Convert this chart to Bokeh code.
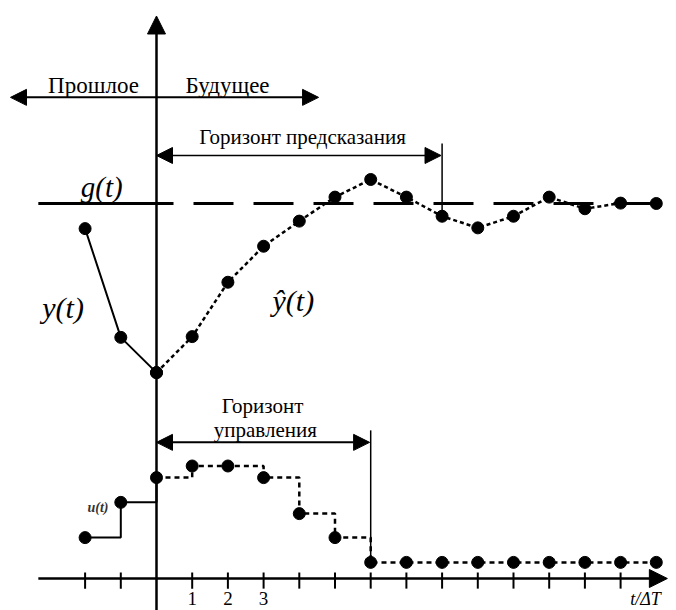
from bokeh.plotting import figure
from bokeh.models import Range1d, Arrow, NormalHead
from bokeh.core.properties import value
from bokeh.embed import file_html
from bokeh.resources import INLINE

# ---- data ----
t_past = [-2, -1, 0]
y_past = [9.33, 6.43, 5.49]

t_pred = [0, 1, 2, 3, 4, 5, 6, 7, 8, 9, 10, 11, 12, 13, 14]
y_pred = [5.49, 6.45, 7.90, 8.86, 9.53, 10.17, 10.64, 10.17, 9.66, 9.35, 9.66, 10.17, 9.86, 10.01, 10.0]

u_past_t = [-2, -1, 0]
u_past = [1.09, 2.03, 2.69]

u_fut_t = [0, 1, 2, 3, 4, 5, 6, 7, 8, 9, 10, 11, 12, 13, 14]
u_fut = [2.69, 3.0, 3.0, 2.69, 1.73, 1.09, 0.43, 0.43, 0.43, 0.43, 0.43, 0.43, 0.43, 0.43, 0.43]

g_value = 10.0
tick_t = [-2, -1, 1, 2, 3, 4, 5, 6, 7, 8, 9, 10, 11, 12, 13]
tick_labels_t = [1, 2, 3]
tick_labels = ["1", "2", "3"]
pred_horizon = 8
ctrl_horizon = 6

FONT = value("Liberation Serif")
BLACK = "black"

p = figure(width=676, height=610, output_backend="svg", toolbar_location=None,
           x_range=Range1d(-4.3697, 14.566), y_range=Range1d(-0.8533, 15.413),
           min_border=0, x_axis_location=None, y_axis_location=None)
p.grid.visible = False
p.outline_line_color = None
p.background_fill_color = "white"
p.border_fill_color = "white"

def head(size=16):
    return NormalHead(size=size, fill_color=BLACK, line_color=BLACK, line_width=1)

# axes
p.add_layout(Arrow(end=head(18), x_start=-3.31, y_start=0, x_end=14.31, y_end=0,
                   line_width=2.5, line_color=BLACK))
p.add_layout(Arrow(end=head(18), x_start=0, y_start=-1.0, x_end=0, y_end=15.0,
                   line_width=2.5, line_color=BLACK))
p.segment(x0=tick_t, y0=[0.16] * len(tick_t), x1=tick_t, y1=[-0.27] * len(tick_t),
          line_width=2, line_color=BLACK)
p.text(x=tick_labels_t, y=[-0.35] * 3, text=tick_labels, text_font=FONT,
       text_font_size=value("19px"), text_align="center", text_baseline="top", color=BLACK)
p.text(x=[13.27], y=[-0.28], text=["t/ΔT"], text_font=FONT, text_font_style="italic",
       text_font_size=value("18px"), text_align="left", text_baseline="top", color=BLACK)

# past / future arrows
p.add_layout(Arrow(end=head(16), x_start=0, y_start=12.83, x_end=-4.09, y_end=12.83,
                   line_width=2, line_color=BLACK))
p.add_layout(Arrow(end=head(16), x_start=0, y_start=12.83, x_end=4.54, y_end=12.83,
                   line_width=2, line_color=BLACK))
p.text(x=[-1.765, 1.99], y=[13.15, 13.15], text=["Прошлое", "Будущее"], text_font=FONT,
       text_font_size=value("23px"), text_align="center", text_baseline="alphabetic", color=BLACK)

# prediction horizon
p.add_layout(Arrow(start=head(16), end=head(16), x_start=0, y_start=11.28,
                   x_end=pred_horizon - 0.03, y_end=11.28, line_width=1.5, line_color=BLACK))
p.segment(x0=[pred_horizon], y0=[11.6], x1=[pred_horizon], y1=[y_pred[pred_horizon]],
          line_width=1.5, line_color=BLACK)
p.text(x=[4.09], y=[11.78], text=["Горизонт предсказания"], text_font=FONT,
       text_font_size=value("21px"), text_align="center", text_baseline="alphabetic", color=BLACK)

# setpoint g(t)
p.line(x=[-3.31, 0], y=[g_value, g_value], line_width=3, line_color=BLACK)
p.line(x=[-0.644, 14.0], y=[g_value, g_value], line_width=3, line_color=BLACK, line_dash="40 20")
p.text(x=[-2.12], y=[10.45], text=["g(t)"], text_font=FONT, text_font_style="italic",
       text_font_size=value("29px"), text_align="left", text_baseline="alphabetic", color=BLACK)

# output y(t) and prediction
p.line(x=t_past, y=y_past, line_width=2, line_color=BLACK)
p.line(x=t_pred, y=y_pred, line_width=2.5, line_color=BLACK, line_dash="4 3")
p.scatter(x=t_past, y=y_past, size=12, color=BLACK)
p.scatter(x=t_pred, y=y_pred, size=12, color=BLACK)
p.text(x=[-3.2], y=[7.23], text=["y(t)"], text_font=FONT, text_font_style="italic",
       text_font_size=value("30px"), text_align="left", text_baseline="alphabetic", color=BLACK)
p.text(x=[3.25], y=[7.41], text=["ŷ(t)"], text_font=FONT, text_font_style="italic",
       text_font_size=value("30px"), text_align="left", text_baseline="alphabetic", color=BLACK)

# control horizon
p.add_layout(Arrow(start=head(16), end=head(16), x_start=0, y_start=3.63,
                   x_end=ctrl_horizon - 0.03, y_end=3.63, line_width=2, line_color=BLACK))
p.segment(x0=[ctrl_horizon], y0=[3.95], x1=[ctrl_horizon], y1=[u_fut[ctrl_horizon]],
          line_width=1.5, line_color=BLACK)
p.text(x=[2.97, 3.05], y=[4.6, 3.96], text=["Горизонт", "управления"], text_font=FONT,
       text_font_size=value("21px"), text_align="center", text_baseline="alphabetic", color=BLACK)

# control u(t)
p.step(x=u_past_t, y=u_past, mode="after", line_width=2, line_color=BLACK)
p.step(x=u_fut_t, y=u_fut, mode="after", line_width=2.5, line_color=BLACK, line_dash="5 4")
p.scatter(x=u_past_t[:2], y=u_past[:2], size=12, color=BLACK)
p.scatter(x=u_fut_t, y=u_fut, size=12, color=BLACK)
p.text(x=[-1.345], y=[1.89], text=["u(t)"], text_font=FONT, text_font_style="bold italic",
       text_font_size=value("14px"), text_align="right", text_baseline="alphabetic", color="#333333")

open("out.html", "w").write(file_html(p, INLINE))
